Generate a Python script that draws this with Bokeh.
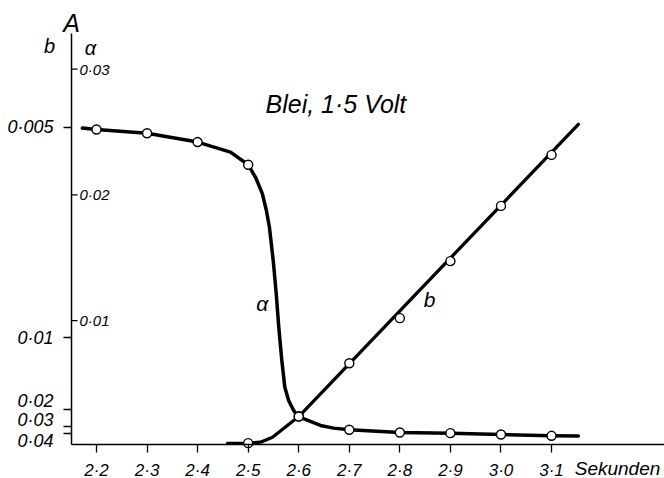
import numpy as np
from bokeh.plotting import figure
from bokeh.models import Range1d, FixedTicker, CustomJSTickFormatter, Label, LinearAxis
from bokeh.core.properties import value
from bokeh.embed import file_html
from bokeh.resources import INLINE

# ---- data ----
x_ticks = [2.2, 2.3, 2.4, 2.5, 2.6, 2.7, 2.8, 2.9, 3.0, 3.1]
alpha_ticks = [0.01, 0.02, 0.03]
alpha_tick_labels = ["0·01", "0·02", "0·03"]
b_ticks = [0.005, 0.01, 0.02, 0.03, 0.04]
b_tick_labels = ["0·005", "0·01", "0·02", "0·03", "0·04"]

# measured points, curve alpha
t_alpha_pts = [2.2, 2.3, 2.4, 2.5, 2.6, 2.7, 2.8, 2.9, 3.0, 3.1]
alpha_pts = [0.0252, 0.0249, 0.0242, 0.0224, 0.0024, 0.00133, 0.00111, 0.00106, 0.00095, 0.00085]
# drawn curve alpha
t_alpha_curve = [2.172, 2.2, 2.3, 2.4, 2.465, 2.5, 2.5145, 2.528, 2.536, 2.542, 2.5495, 2.5555,
                 2.5605, 2.5665, 2.5725, 2.580, 2.590, 2.598, 2.643, 2.669, 2.7, 2.8, 2.9, 3.0,
                 3.1, 3.153]
alpha_curve = [0.02531, 0.0252, 0.0249, 0.0242, 0.0234, 0.0224, 0.0214, 0.0201, 0.01876, 0.01743,
               0.01479, 0.01214, 0.00948, 0.00684, 0.00471, 0.00366, 0.00286, 0.0024, 0.00167,
               0.00146, 0.00133, 0.00111, 0.00106, 0.00095, 0.00085, 0.00083]

# measured points, curve b
t_b_pts = [2.5, 2.6, 2.7, 2.8, 2.9, 3.0, 3.1]
b_pts = [0.095, 0.023, 0.0119, 0.0090, 0.0071, 0.0060, 0.0053]
# drawn curve b
t_b_curve = [2.459, 2.5, 2.5245, 2.548, 2.570, 2.6, 3.153]
b_curve = [0.100, 0.095, 0.0805, 0.0489, 0.0320, 0.023, 0.00497]

# non-linear b scale expressed in alpha units
K_B = 6.882e-6
P_B = 1.55


def b_to_y(b):
    return K_B * np.power(np.asarray(b, dtype=float), -P_B)


FONT = "Liberation Sans"
W, H = 664, 478

# whole canvas is the frame; axes are placed at fixed locations inside it
X0, X1 = 2.010127, 3.323418
Y0, Y1 = -0.0025437, 0.0354531
XPX = (X1 - X0) / W
YPX = (Y1 - Y0) / H


def px(x):  # page pixel -> data x (for annotation placement only)
    return X0 + x * XPX


def py(y):  # page pixel -> data y (for annotation placement only)
    return Y1 - y * YPX


AX_X = px(71)      # position of the vertical axis
AX_Y = py(444)     # position of the horizontal axis
AX_TOP = py(33)

p = figure(width=W, height=H, x_range=Range1d(X0, X1), y_range=Range1d(Y0, Y1),
           output_backend="svg", toolbar_location=None,
           min_border_left=0, min_border_right=0, min_border_top=0, min_border_bottom=0)
p.grid.visible = False
p.outline_line_color = None
p.background_fill_color = "white"
p.border_fill_color = "white"

# x axis
xa = p.xaxis[0]
xa.fixed_location = AX_Y
xa.bounds = (AX_X, X1)
xa.ticker = FixedTicker(ticks=x_ticks)
xa.formatter = CustomJSTickFormatter(code="return tick.toFixed(1).replace('.', '\u00b7');")
xa.major_tick_out = 8
xa.major_tick_in = 0
xa.minor_tick_line_color = None
xa.axis_line_width = 1.5
xa.major_tick_line_width = 1.3
xa.axis_line_color = "black"
xa.major_tick_line_color = "black"
xa.major_label_standoff = 8
xa.major_label_text_font = FONT
xa.major_label_text_font_style = "italic"
xa.major_label_text_font_size = "17px"
xa.major_label_text_color = "black"

# left axis: b scale. The labels of the crowded lower ticks are moved
# up / down a few pixels, as in the original (style only).
b_label_shift_px = [0, 0, 8, 7, -7]

LOOKUP = """
    let best = 0;
    for (let i = 0; i < pos.length; i++) {
        if (Math.abs(pos[i] - tick) < Math.abs(pos[best] - tick)) best = i;
    }
    return labels[best];
"""


def style_axis(ax, positions, labels, show_line, show_ticks):
    ax.fixed_location = AX_X
    ax.bounds = (AX_Y, AX_TOP)
    ax.ticker = FixedTicker(ticks=list(positions))
    ax.formatter = CustomJSTickFormatter(args=dict(pos=list(positions), labels=list(labels)),
                                         code=LOOKUP)
    ax.major_tick_out = 8
    ax.major_tick_in = 0
    ax.minor_tick_line_color = None
    ax.axis_line_width = 1.5
    ax.major_tick_line_width = 1.3
    ax.axis_line_color = "black" if show_line else None
    ax.major_tick_line_color = "black" if show_ticks else None
    ax.major_label_standoff = 10
    ax.major_label_text_font = FONT
    ax.major_label_text_font_style = "italic"
    ax.major_label_text_font_size = "18px"
    ax.major_label_text_color = "black"


b_pos = b_to_y(b_ticks)
# main axis: line, all tick marks, labels of the unshifted ticks
style_axis(p.yaxis[0], b_pos,
           [l if s == 0 else "" for l, s in zip(b_tick_labels, b_label_shift_px)], True, True)
# helper axis: only the shifted labels, no line and no tick marks
shifted = [(y + s * YPX, l) for y, l, s in zip(b_pos, b_tick_labels, b_label_shift_px) if s != 0]
ax2 = LinearAxis()
p.add_layout(ax2, "left")
style_axis(ax2, [a for a, _ in shifted], [b for _, b in shifted], False, False)

# alpha scale: inner ticks and labels
n = len(alpha_ticks)
p.segment(x0=[AX_X] * n, y0=alpha_ticks, x1=[AX_X + 6 * XPX] * n, y1=alpha_ticks,
          line_color="black", line_width=1.3)
p.text(x=[AX_X] * n, y=alpha_ticks, text=alpha_tick_labels, x_offset=8,
       text_align="left", text_baseline="middle", text_font=value(FONT),
       text_font_style="italic", text_font_size="15px", text_color="black")

# curves
p.line(t_alpha_curve, alpha_curve, line_color="black", line_width=3.5, line_join="round",
       line_cap="round")
p.line(t_b_curve, list(b_to_y(b_curve)), line_color="black", line_width=3.3, line_join="round",
       line_cap="round")

# measured points
p.scatter(t_alpha_pts, alpha_pts, size=9, fill_color="white", line_color="black", line_width=1.4)
p.scatter(t_b_pts, list(b_to_y(b_pts)), size=9, fill_color="white", line_color="black",
          line_width=1.4)


def lab(x, y, text, size, align="center"):
    p.add_layout(Label(x=px(x), y=py(y), text=text, text_font=FONT, text_font_style="italic",
                       text_font_size=size, text_align=align, text_baseline="middle",
                       text_color="black"))


lab(265, 103, "Blei, 1·5 Volt", "25px", "left")
lab(261.7, 303, "α", "21px")
lab(429, 299, "b", "21px")
lab(71, 22, "A", "25px")
lab(49, 45, "b", "20px")
lab(90, 47, "α", "20px")
lab(617, 468, "Sekunden", "19px")

open("out.html", "w").write(file_html(p, INLINE))
